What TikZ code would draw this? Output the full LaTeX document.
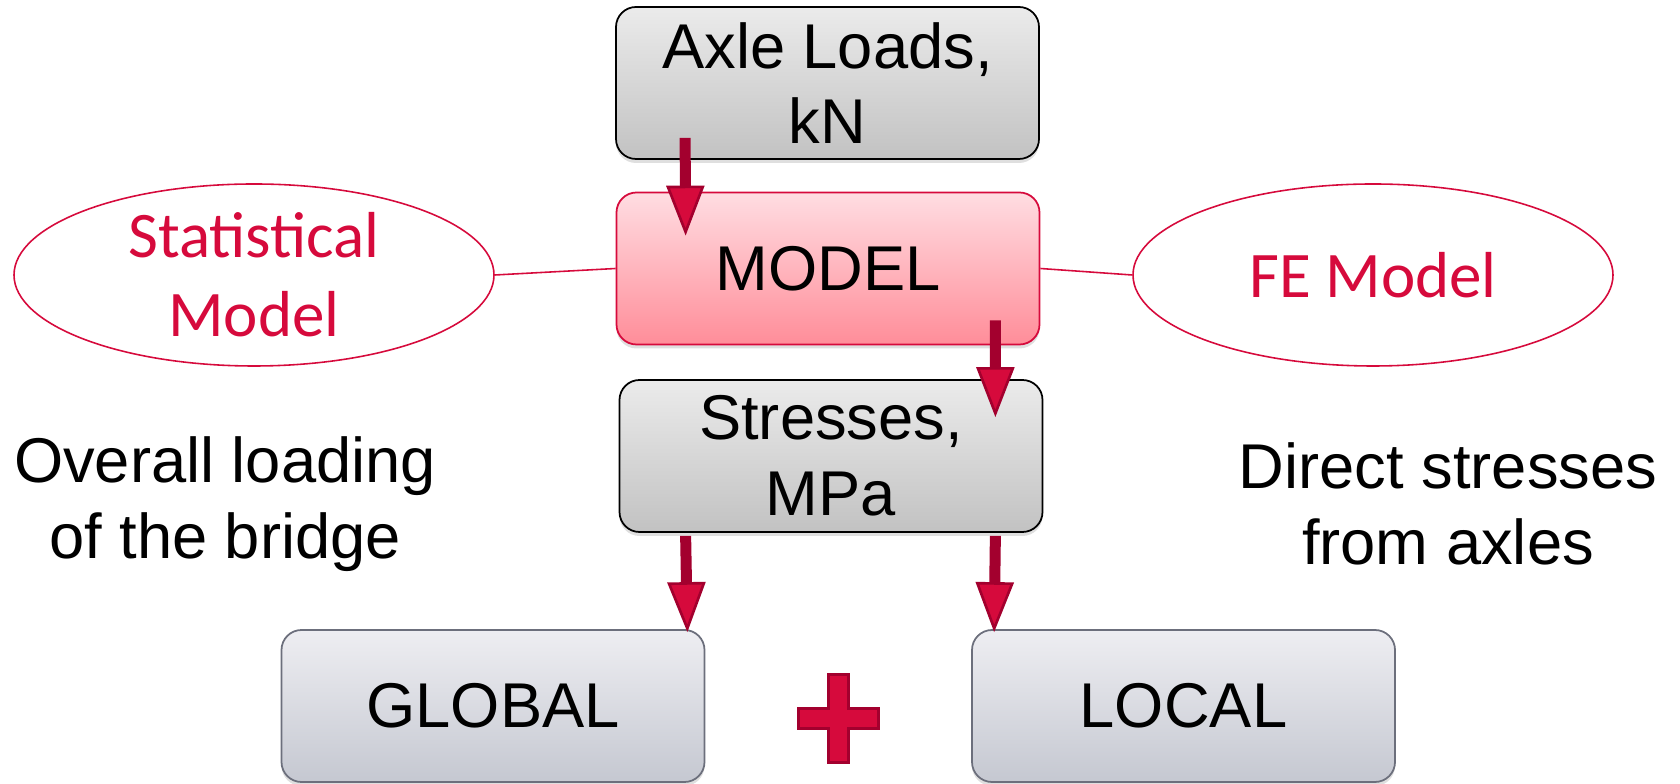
\documentclass[tikz,border=0pt]{standalone}
\usepackage{fontspec}
\setmainfont{Liberation Sans}
\newfontfamily\calibri{Carlito}
\usetikzlibrary{arrows.meta,shapes.geometric,shadows,calc}

\definecolor{crimson}{HTML}{D60A3C}
\definecolor{darkcrimson}{HTML}{A3002E}
\definecolor{greytop}{HTML}{EBEBEB}
\definecolor{greybot}{HTML}{C2C2C2}
\definecolor{pinktop}{HTML}{FFDDE2}
\definecolor{pinkbot}{HTML}{FF8D99}
\definecolor{bluetop}{HTML}{EEEEF2}
\definecolor{bluebot}{HTML}{C5C8D1}
\definecolor{blueline}{HTML}{6C6F7C}

\tikzset{
  box/.style={rounded corners=0.4cm, minimum width=8.46cm, minimum height=3.04cm,
    align=center, line width=1pt, font=\fontsize{36}{43}\selectfont,
    drop shadow={shadow xshift=0pt, shadow yshift=-0.08cm, opacity=0.25}},
  greybox/.style={box, draw=black, top color=greytop, bottom color=greybot},
  modelbox/.style={box, draw=crimson, top color=pinktop, bottom color=pinkbot},
  resultbox/.style={box, draw=blueline, top color=bluetop, bottom color=bluebot},
  oval/.style={ellipse, draw=crimson, line width=0.9pt, text=crimson,
    minimum width=9.6cm, minimum height=3.64cm, inner xsep=0pt, inner ysep=-0.2cm,
    align=center, font=\calibri\fontsize{37}{45}\selectfont},
  note/.style={align=center, font=\fontsize{36}{43}\selectfont},
  link/.style={draw=crimson, line width=0.9pt},
  bigarrow/.style={draw=darkcrimson, line width=0.22cm,
    -{Triangle[width=0.76cm, length=1.0cm, line width=1.5pt, fill=crimson]}},
  plussign/.style={draw=darkcrimson, fill=crimson, line width=1.5pt}
}

\begin{document}
\begin{tikzpicture}
  \useasboundingbox (0,0) rectangle (33.6,15.68);
  % main chain
  \node[greybox] (axle) at (16.55,14.02) {Axle Loads,\\kN};
  \node[modelbox] (model) at (16.56,10.31) {MODEL};
  \node[greybox] (stress) at (16.62,6.56) {Stresses,\\MPa};
  \node[resultbox] (global) at (9.86,1.56) {GLOBAL};
  \node[resultbox] (local) at (23.67,1.56) {LOCAL};
  % the two models on the sides
  \node[oval] (stat) at (5.08,10.18) {Statistical\\Model};
  \node[oval] (fe) at (27.46,10.18) {FE Model};
  \draw[link] (stat.east) -- (model.west);
  \draw[link] (model.east) -- (fe.west);
  % notes
  \node[note] (overall) at (4.5,5.6) {Overall loading\\of the bridge};
  \node[note] (direct) at (28.96,5.6) {Direct stresses\\from axles};
  % arrows
  \draw[bigarrow] ([xshift=1.4cm,yshift=0.44cm]axle.south west)
    -- ([xshift=1.4cm,yshift=-0.88cm]model.north west);
  \draw[bigarrow] ([xshift=-0.9cm,yshift=0.5cm]model.south east)
    -- ([xshift=-0.96cm,yshift=-0.76cm]stress.north east);
  \draw[bigarrow] ([xshift=1.34cm,yshift=-0.06cm]stress.south west)
    -- ([xshift=-0.36cm,yshift=-0.06cm]global.north east);
  \draw[bigarrow] ([xshift=-0.96cm,yshift=-0.06cm]stress.south east)
    -- ([xshift=0.46cm,yshift=-0.06cm]local.north west);
  % plus between the results
  \coordinate (plus) at ([yshift=-0.25cm]$(global.east)!0.5!(local.west)$);
  \draw[plussign, shift={(plus)}] (-0.2,0.88) -- (0.2,0.88) -- (0.2,0.2)
    -- (0.8,0.2) -- (0.8,-0.2) -- (0.2,-0.2) -- (0.2,-0.88) -- (-0.2,-0.88)
    -- (-0.2,-0.2) -- (-0.8,-0.2) -- (-0.8,0.2) -- (-0.2,0.2) -- cycle;
\end{tikzpicture}
\end{document}
